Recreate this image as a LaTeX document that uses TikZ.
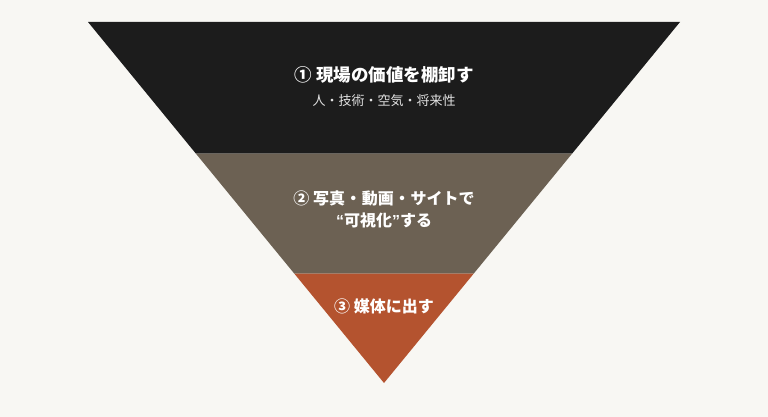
\documentclass[tikz,border=0pt]{standalone}
\usepackage{fontspec}
\newfontfamily\cjk{Noto Sans CJK JP}
\newfontfamily\lat{Liberation Sans}
\definecolor{bg}{HTML}{F8F7F3}
\definecolor{topband}{HTML}{1C1C1C}
\definecolor{midband}{HTML}{6C6153}
\definecolor{lowband}{HTML}{B4532F}
\definecolor{subgray}{HTML}{E2E2E2}
\newcommand{\nkg}{\makebox[1.05em]{・}}
\tikzset{
  title/.style={text=white, font=\cjk\bfseries\fontsize{16}{22}\selectfont, align=center, inner sep=0pt},
  subtitle/.style={text=subgray, font=\cjk\fontsize{13}{15}\selectfont, inner sep=0pt},
}
\begin{document}
\begin{tikzpicture}[x=1pt,y=-1pt]
\fill[bg] (0,0) rectangle (768,417);
\useasboundingbox (0,0) rectangle (768,417);
\fill[topband] (88,22) -- (680,22) -- (572.2,153.5) -- (195.8,153.5) -- cycle;
\fill[midband] (195.8,153.5) -- (572.2,153.5) -- (473.8,273.5) -- (294.2,273.5) -- cycle;
\fill[lowband] (294.2,273.5) -- (473.8,273.5) -- (384,383) -- cycle;
\node[title, font=\cjk\bfseries\fontsize{17.5}{22}\selectfont] (t1) at (384,75) {① 現場の価値を棚卸す};
\node[subtitle] (s1) at (384,101) {人・技術・空気・将来性};
\node[title] (t2) at (384,209) {② 写真\nkg 動画\nkg サイトで\\{\lat“}可視化{\lat”}する};
\node[title] (t3) at (384,306) {③ 媒体に出す};
\end{tikzpicture}
\end{document}
